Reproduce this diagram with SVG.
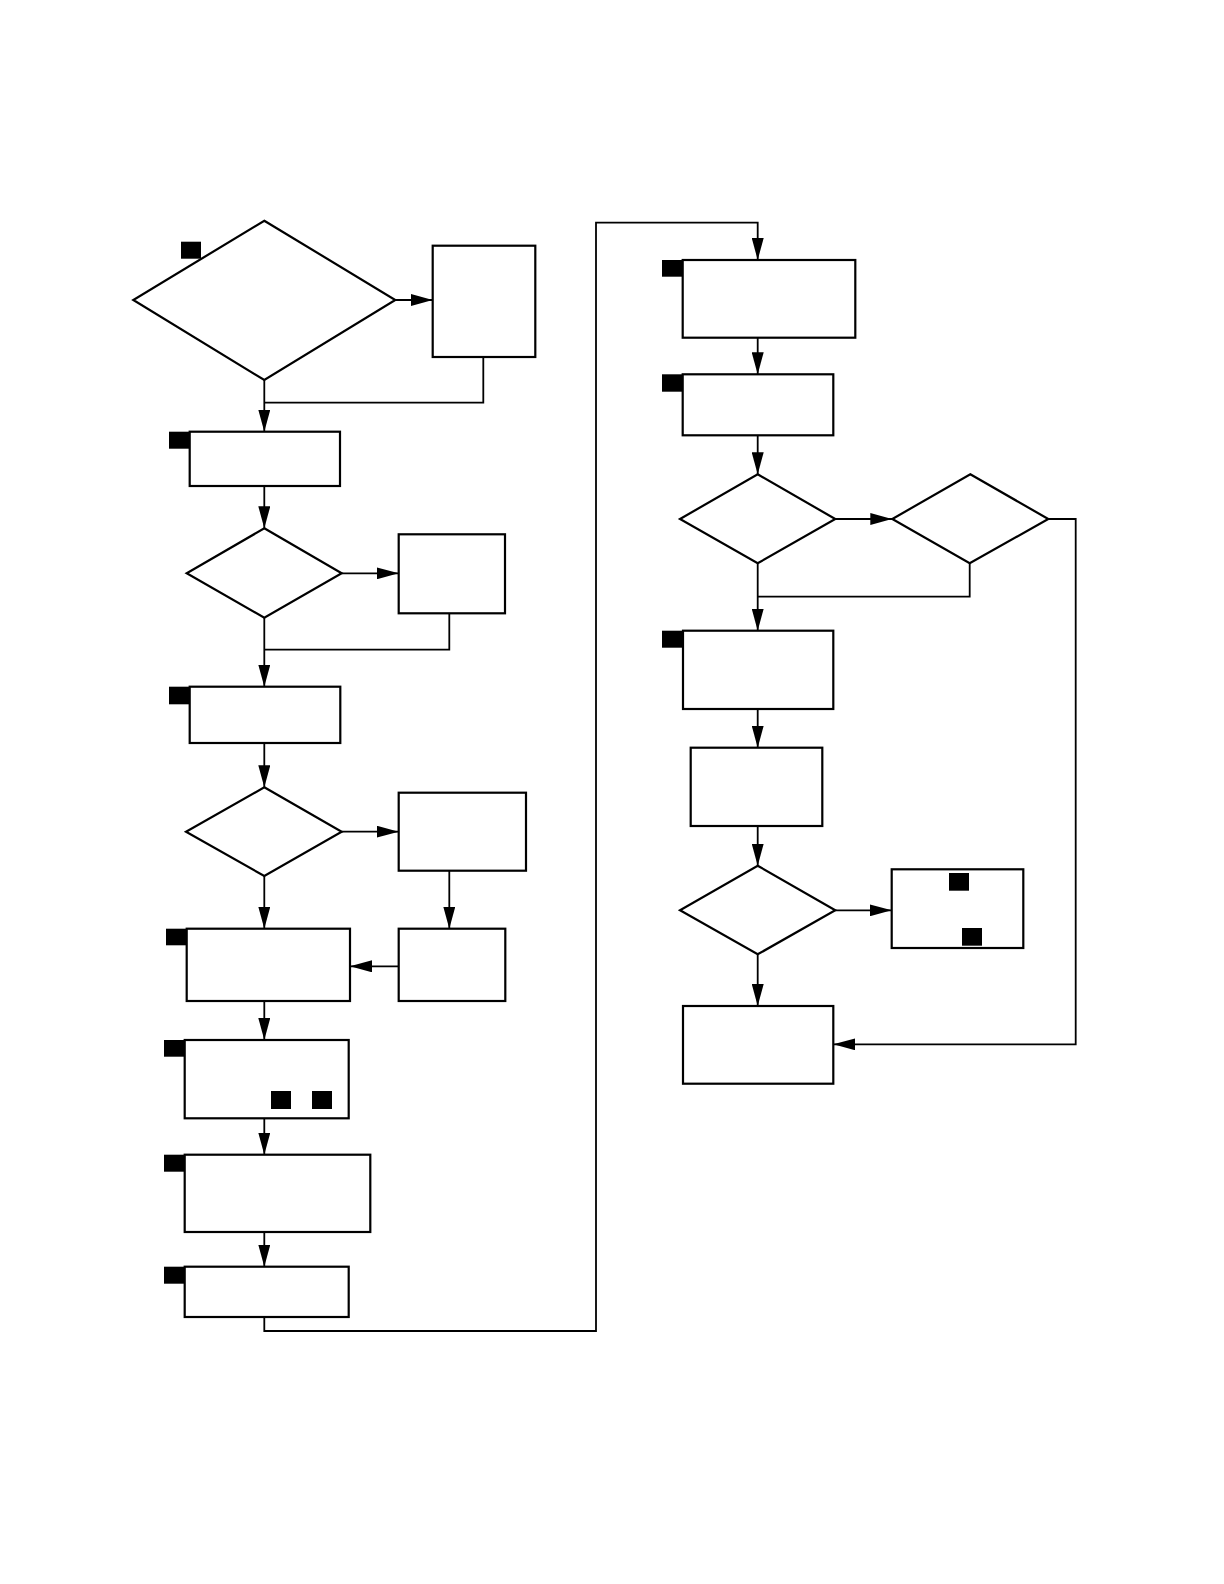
<svg xmlns="http://www.w3.org/2000/svg" width="1224" height="1584" viewBox="0 0 1224 1584">
<style>
.n{fill:#fff;stroke:#000;stroke-width:2.2}
.c{fill:none;stroke:#000;stroke-width:1.8}
.a{marker-end:url(#ah)}
.t{fill:#000}
</style>
<defs>
<marker id="ah" markerUnits="userSpaceOnUse" markerWidth="22" markerHeight="12" refX="22" refY="6" orient="auto">
<path d="M0,0 L22,6 L0,12 z" fill="#000"/>
</marker>
</defs>
<rect width="1224" height="1584" fill="#fff"/>
<g id="connectors">
<path class="c a" d="M395.3,300 H432.7"/>
<path class="c a" d="M264.3,380 V431.7"/>
<path class="c" d="M483.3,357 V402.7 H264.3"/>
<path class="c a" d="M264.3,486 V528.3"/>
<path class="c a" d="M341.7,573.3 H398.7"/>
<path class="c a" d="M264.3,617.7 V686.7"/>
<path class="c" d="M449.3,613.3 V649.7 H264.3"/>
<path class="c a" d="M264.3,743 V787.3"/>
<path class="c a" d="M341.7,831.7 H398.7"/>
<path class="c a" d="M264.3,876 V928.7"/>
<path class="c a" d="M449.3,870.7 V928.7"/>
<path class="c a" d="M398.7,966.3 H350"/>
<path class="c a" d="M264.3,1001 V1040"/>
<path class="c a" d="M264.3,1118.3 V1154.7"/>
<path class="c a" d="M264.3,1232 V1266.7"/>
<path class="c a" d="M264.3,1317 V1331 H596 V222.7 H757.7 V260"/>
<path class="c a" d="M757.7,337.7 V374.3"/>
<path class="c a" d="M757.7,435.3 V474.3"/>
<path class="c a" d="M835.3,519 H892.3"/>
<path class="c" d="M969.7,563.3 V596.7 H757.7"/>
<path class="c a" d="M757.7,563.3 V630.7"/>
<path class="c a" d="M1048.3,519 H1075.7 V1044.3 H833.3"/>
<path class="c a" d="M757.7,709 V747.7"/>
<path class="c a" d="M757.7,826 V865.7"/>
<path class="c a" d="M835.3,910.3 H891.7"/>
<path class="c a" d="M757.7,954.3 V1006"/>
</g>
<g id="d1"><polygon class="n" points="264.3,220.7 395.3,300 264.3,380 133.3,300"/><rect class="t" x="181" y="241.7" width="20" height="17"/></g>
<g id="boxA"><rect class="n" x="432.7" y="245.7" width="102.6" height="111.3"/></g>
<g id="boxB"><rect class="n" x="189.7" y="431.7" width="150.3" height="54.3"/><rect class="t" x="169" y="431.7" width="20.7" height="17"/></g>
<g id="d2"><polygon class="n" points="264.3,528.3 341.7,573.3 264.3,617.7 186.7,573.3"/></g>
<g id="boxC"><rect class="n" x="398.7" y="534.3" width="106.3" height="79"/></g>
<g id="boxD"><rect class="n" x="189.7" y="686.7" width="150.6" height="56.3"/><rect class="t" x="169" y="686.7" width="20.7" height="17.6"/></g>
<g id="d3"><polygon class="n" points="264.3,787.3 341.7,831.7 264.3,876 186,831.7"/></g>
<g id="boxE"><rect class="n" x="398.7" y="792.7" width="127.3" height="78"/></g>
<g id="boxF"><rect class="n" x="398.7" y="928.7" width="106.6" height="72.3"/></g>
<g id="boxG"><rect class="n" x="186.7" y="928.7" width="163.3" height="72.3"/><rect class="t" x="166" y="928.7" width="20.7" height="16.6"/></g>
<g id="boxH"><rect class="n" x="184.7" y="1040" width="164" height="78.3"/><rect class="t" x="164" y="1040" width="20.7" height="16.7"/><rect class="t" x="271" y="1091" width="20" height="18"/><rect class="t" x="312" y="1091" width="20" height="18"/></g>
<g id="boxI"><rect class="n" x="184.7" y="1154.7" width="185.6" height="77.3"/><rect class="t" x="164" y="1154.7" width="20.7" height="17"/></g>
<g id="boxJ"><rect class="n" x="184.7" y="1266.7" width="164" height="50.3"/><rect class="t" x="164" y="1266.7" width="20.7" height="17"/></g>
<g id="boxK"><rect class="n" x="682.7" y="260" width="172.6" height="77.7"/><rect class="t" x="662" y="260" width="20.7" height="16.7"/></g>
<g id="boxL"><rect class="n" x="682.7" y="374.3" width="150.6" height="61"/><rect class="t" x="662" y="374.3" width="20.7" height="17.4"/></g>
<g id="d4"><polygon class="n" points="757.7,474.3 835.3,519 757.7,563.3 680,519"/></g>
<g id="d5"><polygon class="n" points="970.3,474.3 1048.3,519 969.7,563.3 892.3,519"/></g>
<g id="boxM"><rect class="n" x="683" y="630.7" width="150.3" height="78.3"/><rect class="t" x="662" y="630.7" width="21" height="17"/></g>
<g id="boxN"><rect class="n" x="690.7" y="747.7" width="131.6" height="78.3"/></g>
<g id="d6"><polygon class="n" points="757.7,865.7 835.3,910.3 757.7,954.3 680,910.3"/></g>
<g id="boxO"><rect class="n" x="891.7" y="869.3" width="131.6" height="78.7"/><rect class="t" x="949" y="873" width="20" height="17.7"/><rect class="t" x="962" y="928" width="20" height="17.7"/></g>
<g id="boxP"><rect class="n" x="683" y="1006" width="150.3" height="77.7"/></g>
</svg>
